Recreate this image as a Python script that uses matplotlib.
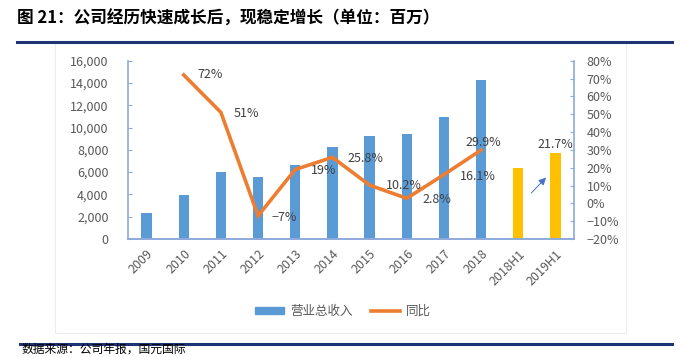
import matplotlib
matplotlib.use("Agg")
import matplotlib.pyplot as plt
from matplotlib.patches import Rectangle
from matplotlib.lines import Line2D

plt.rcParams['font.family'] = ['Noto Sans CJK SC', 'DejaVu Sans']

categories = ['2009', '2010', '2011', '2012', '2013', '2014', '2015', '2016',
              '2017', '2018', '2018H1', '2019H1']
revenue = [2300, 3950, 6000, 5550, 6600, 8300, 9200, 9400, 10950, 14230, 6400, 7750]
growth = [None, 72, 51, -7, 19, 25.8, 10.2, 2.8, 16.1, 29.9]
growth_labels = ['', '72%', '51%', '-7%', '19%', '25.8%', '10.2%', '2.8%', '16.1%', '29.9%']
h1_label = '21.7%'
left_ticks = [0, 2000, 4000, 6000, 8000, 10000, 12000, 14000, 16000]
right_ticks = [-20, -10, 0, 10, 20, 30, 40, 50, 60, 70, 80]

W, H = 684, 357
fig = plt.figure(figsize=(W / 100, H / 100), dpi=100)

ax = fig.add_axes([128 / W, 1 - 239 / H, (574 - 128) / W, (239 - 60.7) / H])
ax2 = ax.twinx()

x = list(range(len(categories)))
colors = ['#5b9bd5'] * 10 + ['#ffc000'] * 2
ax.bar(x, revenue, width=0.28, color=colors, zorder=2)
ax.set_xlim(-0.5, len(categories) - 0.5)
ax.set_ylim(0, 16000)
ax.set_yticks(left_ticks)
ax.set_yticklabels([f'{v:,}' for v in left_ticks])
ax.set_xticks(x)
ax.set_xticklabels(categories, rotation=45, ha='right', rotation_mode='anchor')

gx = [i for i, g in enumerate(growth) if g is not None]
gy = [g for g in growth if g is not None]
ax2.plot(gx, gy, color='#ed7d31', lw=2.6, zorder=3, solid_joinstyle='miter')
ax2.set_ylim(-20, 80)
ax2.set_yticks(right_ticks)
ax2.set_yticklabels([f'{v}%'.replace('-', '\u2212') for v in right_ticks])

spine_c = '#8eaadb'
for a in (ax, ax2):
    a.spines['top'].set_visible(False)
    for s in ('left', 'right', 'bottom'):
        a.spines[s].set_color(spine_c)
        a.spines[s].set_linewidth(1.2)
ax.spines['right'].set_visible(False)
ax2.spines['left'].set_visible(False)
ax.tick_params(axis='y', direction='in', length=3, color=spine_c, labelsize=9,
               labelcolor='#595959', pad=14)
ax.tick_params(axis='x', length=0, labelsize=9, labelcolor='#595959', pad=6)
ax2.tick_params(axis='y', direction='in', length=3, color=spine_c, labelsize=9,
                labelcolor='#595959', pad=9)

# data labels (offsets in points)
offsets = {1: (10, 0, 'left', 'center'), 2: (9.5, -1, 'left', 'center'),
           3: (10, -1, 'left', 'center'), 4: (11, -1, 'left', 'center'),
           5: (11, -1, 'left', 'center'), 6: (11.5, 0, 'left', 'center'),
           7: (11, -1, 'left', 'center'), 8: (11.5, -1, 'left', 'center'),
           9: (1.5, 5.5, 'center', 'center')}
for i, lab in enumerate(growth_labels):
    if growth[i] is None:
        continue
    dx, dy, ha, va = offsets[i]
    ax2.annotate(lab.replace('-', '\u2212'), (i, growth[i]), xytext=(dx, dy),
                 textcoords='offset points', ha=ha, va=va, fontsize=9,
                 color='#404040', zorder=5)
ax.annotate(h1_label, (11, revenue[11]), xytext=(0, 1), textcoords='offset points',
            ha='center', va='bottom', fontsize=9, color='#404040')

# arrow between H1 bars
ax.annotate('', xy=(10.8, 5700), xytext=(10.3, 3950),
            arrowprops=dict(arrowstyle='-|>', color='#4472c4', lw=0.7,
                            mutation_scale=11))

# title
fig.text(17 / W, 1 - 19 / H, '图 21：公司经历快速成长后，现稳定增长（单位：百万）',
         fontsize=12, fontweight='bold', ha='left', va='center', color='#000000')
fig.add_artist(Line2D([17 / W, 672 / W], [1 - 41.7 / H] * 2, color='#1f3473', lw=2.2))
fig.add_artist(Line2D([20 / W, 672 / W], [1 - 343.7 / H] * 2, color='#1f3473', lw=2.2))
# light frame
fig.add_artist(Rectangle((55 / W, 1 - 333 / H), (626 - 55) / W, (333 - 43) / H,
                         fill=False, ec='#ececec', lw=0.8))
fig.text(22 / W, 1 - 356 / H, '数据来源：公司年报，国元国际', fontsize=8.5,
         ha='left', va='bottom', color='#000000', style='italic')

# legend
handles = [Rectangle((0, 0), 1, 1, color='#5b9bd5'),
           Line2D([0], [0], color='#ed7d31', lw=2.6)]
fig.legend(handles, ['营业总收入', '同比'], loc='center', bbox_to_anchor=(343 / W, 1 - 311 / H),
           ncol=2, frameon=False, fontsize=9, labelcolor='#595959',
           handlelength=2.3, handleheight=0.5, columnspacing=1.5, handletextpad=0.5)

fig.savefig('out.png', dpi=100)
